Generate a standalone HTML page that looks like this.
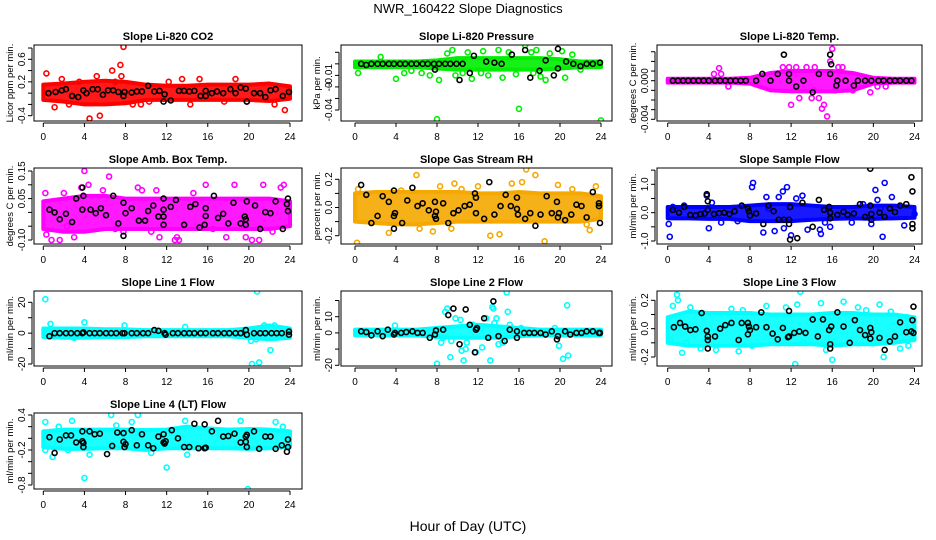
<!DOCTYPE html>
<html><head><meta charset="utf-8">
<style>
html,body{margin:0;padding:0;background:#fff;}
svg{display:block;font-family:"Liberation Sans",sans-serif;}
</style></head>
<body>
<svg id="chart" width="936" height="540" viewBox="0 0 936 540">
<rect x="0" y="0" width="936" height="540" fill="#fff"/>
<text x="468" y="13" text-anchor="middle" font-size="13">NWR_160422  Slope Diagnostics</text>
<text x="468" y="531" text-anchor="middle" font-size="14">Hour of Day (UTC)</text>
</svg>
<script>
// ---- data (hours, band envelopes, outlier points, reference points) ----
const bandHours=[0,2,4,6,8,10,12,14,16,18,20,22,24];
const xTicks=[0,4,8,12,16,20,24];

const co2Lo=[-0.12,-0.15,-0.2,-0.2,-0.18,-0.12,-0.12,-0.12,-0.12,-0.12,-0.12,-0.14,-0.1];
const co2Hi=[0.15,0.17,0.2,0.22,0.2,0.15,0.13,0.13,0.15,0.15,0.15,0.17,0.12];
const co2Out=[[0.3,0.35],[1.1,-0.25],[1.8,0.25],[4.5,-0.45],[5.5,-0.4],[6.7,0.4],[7.5,0.5],[7.8,0.82],[7.6,0.3],[7,0.2],[3.5,0.2],[5.2,0.3],[15.2,0.25],[13.5,0.25],[12.2,0.2],[18.7,0.25],[23.5,-0.3],[17.6,-0.15],[8.7,-0.2],[9.5,-0.2],[2.5,-0.2],[22.5,-0.2],[14.3,-0.2],[10.3,-0.15],[11.7,-0.1],[19.8,-0.15]];
const co2Ref=[[0.5,0],[1.2,0.02],[1.8,0.05],[2.2,0.07],[2.8,-0.05],[3.4,-0.07],[3.9,0.05],[4.2,0],[4.8,0.07],[5.3,0.07],[5.8,-0.03],[6.3,0.05],[6.8,0.05],[7.3,0.02],[7.8,-0.05],[7.9,0.02],[8.6,0.01],[9.1,0.03],[9.6,0.03],[10.2,0.13],[10.8,0.03],[11.3,0.04],[11.8,-0.02],[11.7,-0.15],[12.4,-0.13],[13.2,0.04],[13.7,0.04],[14.2,0.03],[14.7,0.04],[15.3,-0.05],[15.8,0.04],[15.8,-0.05],[16.4,0],[16.9,0.03],[17.5,0],[18.2,0.07],[18.7,0],[19.2,0.1],[19.7,0.08],[19.8,-0.15],[20.5,0],[21.1,0],[21.6,-0.07],[22.1,0.05],[22.6,0.07],[23.3,-0.05],[23.9,0.02]];

const presLo=[-0.003,-0.003,-0.003,-0.003,-0.004,-0.005,-0.005,-0.005,-0.005,-0.005,-0.004,-0.003,-0.003];
const presHi=[0.002,0.002,0.002,0.002,0.003,0.005,0.005,0.005,0.005,0.005,0.004,0.002,0.002];
const presOut=[[0.3,-0.008],[2.5,0.006],[4,-0.013],[4.8,-0.008],[5.5,-0.006],[6.5,-0.008],[7.3,-0.01],[8,-0.048],[8.2,-0.014],[9,0.009],[9.8,-0.01],[9.5,0.012],[10.5,-0.008],[11,0.01],[11.4,-0.013],[12.3,-0.008],[12.5,0.011],[13,-0.01],[14,0.012],[14.4,-0.012],[15,0.01],[15.7,-0.009],[16,-0.039],[16.6,0.016],[17.4,-0.008],[17.7,0.012],[18.1,-0.011],[18.6,-0.014],[19,0.009],[20.2,0.011],[20.5,-0.012],[21.2,0.008],[24,-0.049],[22,-0.005],[17.2,0.01]];
const presRef=[[0.6,0],[1.1,-0.001],[1.6,0],[2.2,0],[2.7,0],[3.3,0],[3.8,0],[4.4,0],[4.9,0],[5.5,0],[6,0],[6.6,0],[7.1,0],[7.7,0],[8.2,0],[8.8,0],[9.3,0],[9.9,0],[10.5,0],[7.8,-0.005],[10.2,-0.014],[11.2,-0.008],[11.6,0.007],[12.8,0.002],[13.6,0.001],[14.3,0],[15.3,0.008],[16.6,0.012],[17.1,-0.012],[18,-0.006],[18.6,0.003],[19.4,-0.01],[19.8,0.013],[19.8,-0.004],[20.6,0.002],[21.3,0],[22,-0.002],[22.6,0],[23.2,0],[23.9,0.001]];

const tempLo=[-0.0002,-0.0002,-0.0002,-0.0002,-0.0003,-0.001,-0.0011,-0.0011,-0.0011,-0.001,-0.0003,-0.0002,-0.0002];
const tempHi=[0.0002,0.0002,0.0002,0.0002,0.0003,0.0008,0.001,0.001,0.001,0.0008,0.0003,0.0002,0.0002];
const tempOut=[[4.5,0.0007],[5,0.0013],[5.2,0.0007],[5.9,-0.0006],[12,-0.0025],[11.2,0.0014],[12.8,-0.0018],[13.5,0.0014],[14,-0.0018],[14.7,-0.0018],[15,-0.0029],[15.2,-0.0025],[15.5,-0.0037],[15.8,0.002],[16,0.0033],[16.6,0.0014],[14.2,-0.001],[16.3,-0.001],[18,-0.001],[19.7,-0.0012],[20.4,-0.0006],[21.2,-0.0006],[11.8,0.0014],[12.5,0.0014],[14.3,0.0014],[17,0.0014]];
const tempRef=[[0.5,0],[1,0],[1.5,0],[2,0],[2.5,0],[3,0],[3.5,0],[4,0],[4.6,0],[5.1,0],[5.6,0],[6.1,0],[6.6,0],[7.1,0],[7.6,0],[8.6,0],[10,0],[11.8,0],[13.2,0],[16.5,0],[17.3,0],[18.5,0],[19.2,0],[19.8,0],[20.5,0],[21,0],[21.6,0],[22.1,0],[22.6,0],[23.2,0],[23.7,0],[9.2,0.0007],[10.7,0.0007],[11.3,0.0027],[11.8,0.0007],[12.5,-0.0006],[14.1,-0.0012],[14.7,0.0007],[15.8,0.0027],[15.9,0.0017],[15.8,0.0007],[16.4,-0.0005],[18.1,-0.0005]];

const ambLo=[-0.06,-0.07,-0.07,-0.06,-0.06,-0.06,-0.06,-0.06,-0.06,-0.06,-0.06,-0.06,-0.05];
const ambHi=[0.04,0.05,0.06,0.06,0.05,0.05,0.05,0.05,0.05,0.05,0.05,0.05,0.04];
const ambOut=[[0.2,0.07],[0.3,-0.08],[0.8,-0.1],[1.6,-0.1],[2.3,-0.05],[3,-0.09],[3.7,0.09],[4,0.15],[4.4,0.1],[6.4,0.13],[5.8,0.08],[7,-0.06],[7.8,-0.07],[9.2,0.09],[10.5,-0.07],[11.3,-0.09],[11,0.08],[12.8,-0.1],[13.2,-0.1],[13,-0.09],[14.6,0.07],[15.8,0.1],[17.8,-0.09],[18.6,0.1],[19.7,-0.09],[20.3,-0.1],[21.4,0.1],[22.3,-0.07],[23.1,0.09],[23.4,0.1],[21,-0.1],[16.5,-0.06],[9.6,0.08],[2,0.07]];
const ambRef=[[0.6,0.01],[1.1,0],[1.6,-0.025],[2.2,-0.005],[2.8,-0.035],[3.2,0.05],[3.8,0.09],[3.8,0.01],[3.9,0.06],[4.6,0.01],[5.1,-0.003],[5.6,0.015],[6.1,-0.01],[6.8,0.06],[7.3,-0.04],[7.8,-0.085],[7.8,0.035],[8,-0.003],[8.6,0.015],[9.3,-0.03],[9.9,-0.03],[10.2,0.005],[10.7,0.025],[11.2,-0.015],[11.7,0.05],[11.7,0.01],[11.7,-0.015],[11.7,-0.045],[12.4,0.02],[12.9,0.045],[13.7,-0.045],[14.3,0.02],[14.8,0.03],[15.2,-0.055],[15.7,-0.045],[15.8,-0.013],[15.8,0.015],[16.6,0.06],[17,-0.02],[17.5,-0.005],[18,-0.04],[18.5,0.035],[19.2,-0.04],[19.6,-0.015],[19.7,-0.045],[19.7,-0.025],[19.8,0.04],[20.6,0.025],[21.1,-0.06],[21.6,0.001],[22.1,-0.003],[22.6,0.04],[23.3,-0.06],[23.8,0.05],[23.7,0.03],[23.8,0.005]];

const rhLo=[-0.1,-0.11,-0.12,-0.12,-0.11,-0.1,-0.1,-0.1,-0.1,-0.1,-0.1,-0.1,-0.08];
const rhHi=[0.1,0.11,0.11,0.11,0.11,0.11,0.1,0.1,0.11,0.1,0.1,0.1,0.08];
const rhOut=[[0.2,-0.25],[0.3,0.13],[3.3,-0.18],[4.5,0.12],[6,0.23],[6.3,-0.15],[7.6,-0.17],[9.4,-0.15],[9.7,0.17],[13.2,-0.2],[14.1,-0.19],[16.3,0.18],[16.7,0.27],[17.6,0.23],[18.5,-0.24],[22.6,-0.12],[22.9,-0.16],[23.5,0.15],[8.3,0.15],[10.4,0.13],[12,0.15],[15.3,0.17],[19.8,0.16],[21.2,0.13]];
const rhRef=[[0.6,0.16],[1.1,0.09],[1.6,-0.11],[2.2,-0.06],[2.7,0.08],[3.3,0.04],[3.8,-0.15],[3.8,0.12],[3.8,-0.06],[3.9,-0.04],[4.6,-0.11],[5.1,0.05],[5.6,0.14],[6.1,0.01],[6.6,0.03],[7.2,-0.02],[7.8,0.04],[7.8,-0.06],[7.9,-0.08],[7.9,-0.03],[8.6,0.03],[9.1,-0.11],[9.6,-0.04],[10.1,-0.02],[10.7,0.01],[11.2,0.02],[11.7,0.1],[11.8,0.07],[11.8,-0.04],[12.6,-0.08],[13.1,0.18],[13.6,-0.05],[14.2,0.01],[14.7,0.09],[15.2,0.01],[15.8,0.07],[15.8,-0.01],[15.9,-0.05],[16.6,-0.08],[17.1,-0.04],[17.6,-0.13],[18.1,-0.05],[18.7,0.08],[19.2,-0.04],[19.7,0.04],[19.8,-0.07],[19.9,-0.04],[20.5,-0.09],[21.1,-0.05],[21.6,0.02],[22.1,0.01],[22.6,-0.07],[23.2,0.11],[23.8,0.03],[23.8,0.01],[23.9,-0.11]];

const sfLo=[-0.2,-0.2,-0.22,-0.22,-0.3,-0.3,-0.3,-0.25,-0.22,-0.2,-0.22,-0.2,-0.18];
const sfHi=[0.2,0.2,0.2,0.2,0.25,0.3,0.3,0.25,0.2,0.2,0.25,0.25,0.2];
const sfOut=[[0.1,-0.4],[0.2,-0.85],[0.5,0.2],[1.6,0.25],[3.8,0.6],[4,-0.55],[4.3,0.35],[5.2,-0.35],[6.8,-0.3],[8.2,0.9],[8.3,1.05],[9.3,-0.7],[9.6,0.55],[9.8,0.15],[10.4,-0.65],[10.8,0.55],[11.2,0.75],[11.6,0.9],[11.3,-0.55],[12,-0.8],[12.5,0.5],[13.1,0.6],[13.6,-0.6],[14.8,-0.6],[14.9,-0.75],[15.3,-0.35],[15.8,-0.5],[17.9,-0.35],[19.8,-0.4],[20.2,0.8],[20.4,0.45],[20.9,-0.85],[21.1,1.05],[21.8,0.55],[23,-0.45],[24,-0.05],[19,0.3],[20.7,0.15]];
const sfRef=[[0.5,0.1],[1.1,0],[1.6,0.2],[2.2,-0.08],[2.7,-0.1],[3.2,-0.05],[3.6,-0.03],[3.8,0.65],[3.9,0.4],[3.9,0.1],[4.5,-0.05],[5,-0.02],[5.5,0],[6,-0.05],[6.5,0.05],[7.2,0.25],[7.8,0.15],[7.9,0.05],[8,-0.1],[8.6,-0.03],[9.3,-0.4],[9.8,0.25],[10.3,0.05],[10.8,-0.25],[11.3,-0.25],[11.8,-0.25],[11.8,-0.4],[11.9,0.2],[11.9,-0.95],[12.6,-0.9],[13.1,0.35],[14.1,-0.5],[14.7,0.45],[15.2,0.1],[15.7,0.2],[15.8,0],[15.8,-0.2],[16.5,-0.08],[17.1,0.03],[17.5,-0.08],[18.1,-0.03],[18.7,0.3],[19.2,-0.15],[19.7,1.55],[19.7,0.25],[19.8,-0.05],[19.8,-0.25],[20.6,0],[21.1,-0.15],[21.6,0.15],[22.1,0.02],[22.6,0.25],[23.2,0.3],[23.7,1.25],[23.8,0.75],[23.8,-0.4],[23.8,-0.55]];

const l1Lo=[-2.5,-3,-3,-2.5,-2.5,-2,-2,-2,-2,-2,-3,-4,-3];
const l1Hi=[3,3,3,2.5,2.5,2,2,2,2,2,3,5,3];
const l1Out=[[0.2,22],[0.7,6],[4,7],[7.9,5],[20.2,-5],[20.3,-20],[20.7,-4],[20.8,27],[21,-19],[22.1,-11],[21.5,5],[22.5,5],[13.8,4],[3,-3]];
const l1Ref=[[0.6,-2],[1.1,0],[1.6,0],[2.2,0],[2.7,0],[3.3,0],[3.8,0],[3.9,0.5],[4.5,0],[5,0],[5.5,0],[6.1,0],[6.6,0],[7.1,0],[7.7,0],[7.9,0],[8.6,0],[9.1,0],[9.7,0],[10.2,0],[10.8,2],[11.2,1.5],[11.8,0],[11.9,-1],[12.6,0],[13.1,0],[13.7,0],[14.2,0],[14.7,0],[15.3,0],[15.8,0],[16.5,0],[17,0],[17.6,0],[18.1,0],[18.7,0],[19.2,0],[19.7,2],[19.8,-1],[20.5,0],[21.1,0],[21.6,0],[22.2,0],[22.7,0],[23.2,0],[23.9,1],[23.9,-1]];

const l2Lo=[-1.5,-1.5,-1.5,-1.5,-2.5,-3,-3,-3,-2,-1.5,-1.5,-1.5,-1.5];
const l2Hi=[2,2,2,2,3,4,5,4,3,2,2,2,2];
const l2Out=[[3.9,4.5],[8,-19],[8.4,-6],[8.6,-3],[8.8,13],[9,15],[9.4,-5],[9.3,-15],[9.8,9],[10.3,8],[10.4,-11],[10.6,-17],[10.8,-10],[10.9,-6],[11.8,-12],[12.4,-9],[12.8,9],[13.2,-17],[13.4,16],[13.5,15],[13.6,6],[13.8,9],[14,-7],[14.4,-6],[14.8,25],[14.9,13],[15.1,5],[19.9,-8],[20.3,-16],[20.8,-14],[20.7,17],[19.5,3],[16.2,3],[11.5,5],[12.3,3]];
const l2Ref=[[0.6,1],[1.1,0.5],[1.6,-1.5],[2.2,1],[2.7,-2],[3.2,2],[3.8,-1],[3.9,0],[4.5,0],[5,0.5],[5.6,1],[6.1,0],[6.6,0],[7.3,-3],[7.8,-1],[7.9,1.5],[8.6,2],[9.1,11],[9.6,15],[10.2,-7],[10.8,14.5],[11.2,5],[11.7,-12],[11.8,2],[11.9,3],[12.6,9],[13,-3],[13.5,19.5],[14,-2],[14.6,-5],[15.1,2],[15.8,-3],[15.8,1],[16.5,0],[17,0],[17.5,0],[18.1,0],[18.6,-1],[19.2,1],[19.7,-4],[19.8,-2],[20.5,1],[21,-1],[21.6,0],[22.1,0],[22.6,1],[23.2,1],[23.8,0],[23.9,0]];

const l3Lo=[-0.1,-0.12,-0.12,-0.12,-0.12,-0.11,-0.11,-0.11,-0.12,-0.11,-0.11,-0.1,-0.08];
const l3Hi=[0.08,0.12,0.11,0.11,0.11,0.1,0.1,0.1,0.11,0.11,0.1,0.1,0.08];
const l3Out=[[0.2,-0.08],[0.5,0.16],[0.9,0.24],[1,0.2],[1.4,-0.17],[1.8,-0.1],[2.2,0.15],[3.2,-0.14],[4.7,-0.15],[6.9,-0.16],[6.2,0.14],[7.3,0.13],[9.6,0.16],[11.5,0.15],[12.4,-0.25],[12.9,0.26],[12.6,0.17],[14.9,0.18],[15.4,-0.15],[16,-0.22],[17.1,0.19],[18.5,0.15],[19.3,0.13],[20.6,0.17],[21,-0.2],[21.7,0.12],[22.6,-0.14],[23.4,-0.12],[23.3,0.08],[10.6,-0.1],[8.2,-0.12],[13.2,-0.1]];
const l3Ref=[[0.6,0.01],[1.2,0.04],[1.7,0.015],[2.2,-0.01],[2.7,-0.005],[3.3,0.11],[3.8,-0.015],[3.9,-0.055],[3.9,-0.08],[3.9,-0.14],[4.6,-0.055],[5.1,0],[5.6,0.025],[6.2,0.04],[6.9,-0.08],[7.2,0.04],[7.8,0.04],[7.8,-0.04],[7.9,0.015],[8,-0.01],[8.6,0.01],[9.1,0.115],[9.6,0.01],[10.2,-0.035],[10.7,-0.075],[11.2,0.005],[11.7,-0.06],[11.8,0.125],[11.8,-0.055],[12.3,-0.03],[12.8,-0.02],[13.4,-0.03],[14.1,0.065],[14.6,-0.055],[15.1,0.065],[15.7,-0.01],[15.8,-0.11],[15.8,-0.14],[15.9,0.015],[16.5,0.115],[17.1,0.015],[17.7,-0.1],[18.2,0.06],[18.7,-0.01],[19.2,-0.045],[19.7,0.005],[19.7,-0.07],[19.8,-0.025],[20.6,-0.065],[21.1,-0.15],[21.6,-0.09],[22.1,-0.055],[22.6,0.045],[23.2,-0.025],[23.7,-0.02],[23.8,0.06],[23.9,0.155],[23.9,-0.03]];

const l4Lo=[-0.15,-0.18,-0.18,-0.17,-0.17,-0.2,-0.17,-0.17,-0.17,-0.17,-0.18,-0.17,-0.15];
const l4Hi=[0.12,0.15,0.15,0.15,0.15,0.14,0.15,0.2,0.17,0.15,0.16,0.15,0.12];
const l4Out=[[0.2,0.28],[0.2,-0.2],[0.9,-0.32],[2.8,0.3],[2.4,-0.2],[4,-0.68],[4.5,-0.28],[6.6,0.4],[9.2,0.4],[12,-0.5],[7.1,0.22],[8.6,0.28],[13.8,0.3],[14,-0.28],[19.2,0.3],[19.9,-0.87],[22.6,0.28],[23.3,0.2],[10.5,-0.25],[1.5,0.2]];
const l4Ref=[[0.6,0.02],[1.1,-0.25],[1.6,-0.02],[2.2,0.05],[2.7,0.05],[3.2,-0.07],[3.8,0.12],[3.8,-0.05],[3.9,-0.15],[3.9,-0.08],[4.5,0.12],[5,0.07],[5.5,0.08],[6.2,-0.27],[6.7,-0.13],[7.2,0.1],[7.8,0.09],[7.8,-0.06],[7.9,-0.15],[8,-0.1],[8.6,0.14],[9.1,-0.12],[9.6,0.07],[10.2,-0.12],[10.7,-0.17],[11.2,0.03],[11.7,0.07],[11.7,-0.07],[11.8,-0.09],[11.9,-0.05],[12.5,0.14],[13.1,0],[13.7,-0.15],[14.2,-0.15],[14.7,0.25],[15.1,-0.17],[15.7,-0.17],[15.7,0.24],[15.8,-0.16],[16.4,0.12],[17,0.3],[17.5,0.03],[18,0.04],[18.6,0.08],[19.2,-0.07],[19.7,0.03],[19.7,-0.06],[19.8,0.06],[19.8,-0.15],[20.5,0.12],[21,-0.18],[21.6,0.03],[22.1,0.03],[22.6,-0.18],[23.2,-0.12],[23.7,-0.23],[23.8,-0.02],[23.8,-0.15]];

const panelTitles=["Slope Li-820 CO2","Slope Li-820 Pressure","Slope Li-820 Temp.","Slope Amb. Box Temp.","Slope Gas Stream RH","Slope Sample Flow","Slope Line 1 Flow","Slope Line 2 Flow","Slope Line 3 Flow","Slope Line 4 (LT) Flow"];
const yTitles=["Licor ppm per min.","kPa per min.","degrees C per min.","degrees C per min.","percent per min.","ml/min per min.","ml/min per min.","ml/min per min.","ml/min per min.","ml/min per min."];
const yTickVals=[[-0.4,-0.2,0,0.2,0.4,0.6,0.8],[-0.04,-0.03,-0.02,-0.01,0,0.01],[-0.004,-0.003,-0.002,-0.001,0,0.001,0.002,0.003],[-0.1,-0.05,0,0.05,0.1,0.15],[-0.2,-0.1,0,0.1,0.2],[-1,-0.5,0,0.5,1,1.5],[-20,-10,0,10,20],[-20,-10,0,10,20],[-0.2,-0.1,0,0.1,0.2],[-0.8,-0.6,-0.4,-0.2,0,0.2,0.4]];
const yLabelVals=[[-0.4,0.2,0.6],[-0.04,-0.02,-0.01],[-0.004,0],[-0.1,0.05,0.15],[-0.2,0,0.2],[-1,0,1],[-20,0,20],[-20,0,10],[-0.2,0,0.2],[-0.8,-0.2,0.4]];
const yLabelText=[["-0.4","0.2","0.6"],["-0.04","-0","-0.01"],["-0.004","0.000"],["-0.10","0.05","0.15"],["-0.2","0.0","0.2"],["-1.0","0.0","1.0"],["-20","0","20"],["-20","0","10"],["-0.2","0.0","0.2"],["-0.8","-0.2","0.4"]];
const bandLo=[co2Lo,presLo,tempLo,ambLo,rhLo,sfLo,l1Lo,l2Lo,l3Lo,l4Lo];
const bandHi=[co2Hi,presHi,tempHi,ambHi,rhHi,sfHi,l1Hi,l2Hi,l3Hi,l4Hi];
const outliers=[co2Out,presOut,tempOut,ambOut,rhOut,sfOut,l1Out,l2Out,l3Out,l4Out];
const refPts=[co2Ref,presRef,tempRef,ambRef,rhRef,sfRef,l1Ref,l2Ref,l3Ref,l4Ref];

// ---- layout (axis calibration) ----
const colors=["#ff0000","#00ee00","#ff00ff","#ff00ff","#f5a800","#0000ff","#00ffff","#00ffff","#00ffff","#00ffff"];
const boxes=[[34,45,302,121],[341,45,612,121],[657,45,922,121],[34,168,302,244],[341,168,612,244],[657,168,922,244],[34,291,302,366],[341,291,612,366],[657,291,922,366],[34,413,302,489]];
const xCal=[[43.3,290],[355,601],[667.7,914.5]];
const yCal=[[0.6,59.3,-0.4,115.7],[0.01,52.3,-0.04,110],[0,80.7,-0.004,119.3],[0.15,171,-0.1,240],[0.2,179.3,-0.2,235.7],[1,184.3,-1,241],[20,302.3,-20,364],[10,316.7,-20,365.3],[0.2,300.3,-0.2,357],[0.4,415,-0.8,485]];

const NS="http://www.w3.org/2000/svg";
const svg=document.getElementById('chart');
function mk(tag,attrs,parent){const e=document.createElementNS(NS,tag);for(const k in attrs)e.setAttribute(k,attrs[k]);(parent||svg).appendChild(e);return e;}

for(let p=0;p<10;p++){
  const [bx0,by0,bx1,by1]=boxes[p];
  const xc=xCal[p%3], yc=yCal[p];
  const xs=h=>xc[0]+(xc[1]-xc[0])*h/24;
  const ys=v=>yc[1]+(yc[3]-yc[1])*(v-yc[0])/(yc[2]-yc[0]);
  const g=mk('g',{});
  
  
  const clipId='clip'+p;
  const cp=mk('clipPath',{id:clipId},g);
  mk('rect',{x:bx0,y:by0,width:bx1-bx0,height:by1-by0},cp);
  const t=mk('text',{x:(bx0+bx1)/2,y:by0-5,'text-anchor':'middle','font-size':11,'font-weight':'bold'},g);
  t.textContent=panelTitles[p];
  
  
  const yt=mk('text',{transform:`translate(${bx0-21},${(by0+by1)/2}) rotate(-90)`,'text-anchor':'middle','font-size':9.5},g);
  yt.textContent=yTitles[p];
  
  
  const plot=mk('g',{'clip-path':`url(#${clipId})`},g);
  
  
  // dense band of series points
  let d='';
  bandHours.forEach((h,i)=>{d+=(i?'L':'M')+xs(h)+','+ys(bandHi[p][i]);});
  for(let i=bandHours.length-1;i>=0;i--)d+='L'+xs(bandHours[i])+','+ys(bandLo[p][i]);
  const band=mk('path',{d:d+'Z',fill:colors[p],stroke:colors[p],'stroke-width':4,'stroke-linejoin':'round','fill-opacity':0.9},plot);
  
  
  outliers[p].forEach(([h,v])=>{
    const c=mk('circle',{cx:xs(h),cy:ys(v),r:2.5,fill:'none',stroke:colors[p],'stroke-width':1.6},plot);
    
    
  });
  refPts[p].forEach(([h,v])=>{
    const c=mk('circle',{cx:xs(h),cy:ys(v),r:2.5,fill:'none',stroke:'#000','stroke-width':1.6},plot);
    
    
  });
  const box=mk('rect',{x:bx0,y:by0,width:bx1-bx0,height:by1-by0,fill:'none',stroke:'#000','stroke-width':1},g);
  
  
  // x axis
  mk('line',{x1:xs(0),y1:by1+2,x2:xs(24),y2:by1+2,stroke:'#000'},g);
  xTicks.forEach(h=>{
    mk('line',{x1:xs(h),y1:by1+2,x2:xs(h),y2:by1+6,stroke:'#000'},g);
    const tl=mk('text',{x:xs(h),y:by1+19,'text-anchor':'middle','font-size':10},g);
    tl.textContent=h;
    
    
  });
  // y axis
  const yv=yTickVals[p];
  mk('line',{x1:bx0-2,y1:ys(yv[0]),x2:bx0-2,y2:ys(yv[yv.length-1]),stroke:'#000'},g);
  yv.forEach(v=>mk('line',{x1:bx0-6,y1:ys(v),x2:bx0-2,y2:ys(v),stroke:'#000'},g));
  yLabelVals[p].forEach((v,i)=>{
    const tl=mk('text',{transform:`translate(${bx0-9},${ys(v)}) rotate(-90)`,'text-anchor':'middle','font-size':10},g);
    tl.textContent=yLabelText[p][i];
    
    
  });
}
</script>
</body></html>
